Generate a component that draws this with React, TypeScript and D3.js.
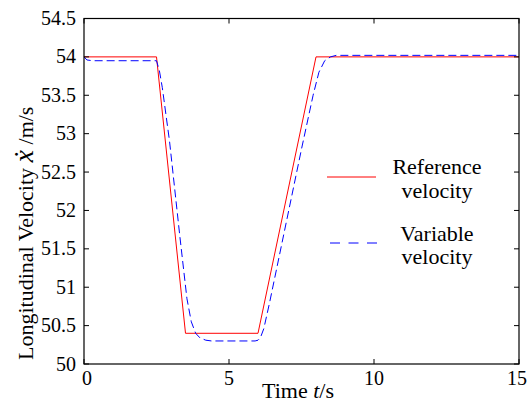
import React from "react";
import * as d3 from "d3";

const refT = [0, 2.5, 3.5, 6, 8, 15];
const refV = [54, 54, 50.4, 50.4, 54, 54];

const varT = [0, 0.1, 0.3, 2.5, 2.6, 2.7, 2.95, 3.3, 3.55, 3.7, 3.85, 4.0, 4.2, 4.4, 5.9, 6.0, 6.08, 6.2, 6.4, 7.5, 7.9, 8.1, 8.3, 8.5, 8.7, 15];
const varV = [54.0, 53.96, 53.95, 53.95, 53.82, 53.6, 52.9, 51.68, 50.85, 50.55, 50.4, 50.34, 50.31, 50.3, 50.3, 50.31, 50.34, 50.46, 50.8, 52.8, 53.5, 53.8, 53.95, 54.0, 54.02, 54.02];

const xTicks = [0, 5, 10, 15];
const yTicks = [50, 50.5, 51, 51.5, 52, 52.5, 53, 53.5, 54, 54.5];

const FONT = "Liberation Serif";

export default function App() {
  const W = 528, H = 408;
  const L = 84, R = 519, T = 18.5, B = 364;
  const x = d3.scaleLinear().domain([0, 15]).range([L, R]);
  const y = d3.scaleLinear().domain([50, 54.5]).range([B, T]);
  const line = d3.line<[number, number]>().x(d => x(d[0])).y(d => y(d[1]));
  const refPts = refT.map((t, i) => [t, refV[i]] as [number, number]);
  const varPts = varT.map((t, i) => [t, varV[i]] as [number, number]);
  const tk = 5;
  return (
    <svg width={W} height={H} style={{ position: "absolute", left: 0, top: 0, background: "#fff" }} fontFamily={FONT}>
      <rect x={0} y={0} width={W} height={H} fill="#fff" />
      <path d={line(refPts) || ""} fill="none" stroke="#ff0000" strokeWidth={1} />
      <path d={line(varPts) || ""} fill="none" stroke="#0000ff" strokeWidth={1} strokeDasharray="8,4" />
      <rect x={L} y={T} width={R - L} height={B - T} fill="none" stroke="#000" strokeWidth={1.2} />
      {xTicks.map(t => (
        <g key={"x" + t}>
          <line x1={x(t)} x2={x(t)} y1={B} y2={B - tk} stroke="#000" />
          <line x1={x(t)} x2={x(t)} y1={T} y2={T + tk} stroke="#000" />
          <text x={x(t) + (t === 0 ? 3 : t === 15 ? -2 : 0)} y={385} textAnchor="middle" fontSize={20} fontFamily={FONT}>{t}</text>
        </g>
      ))}
      {yTicks.map(v => (
        <g key={"y" + v}>
          <line x1={L} x2={L + tk} y1={y(v)} y2={y(v)} stroke="#000" />
          <line x1={R} x2={R - tk} y1={y(v)} y2={y(v)} stroke="#000" />
          <text x={76} y={y(v) + 6.5} textAnchor="end" fontSize={20} fontFamily={FONT}>{v}</text>
        </g>
      ))}
      <text x={298} y={398} textAnchor="middle" fontSize={22} fontFamily={FONT}>
        Time <tspan fontStyle="italic">t</tspan>/s
      </text>
      <text transform="translate(33,360) rotate(-90)" textAnchor="start" fontSize={22} fontFamily={FONT}>
        Longitudinal Velocity  <tspan fontStyle="italic" fontSize={28}>{"x\u0307"}</tspan> /m/s
      </text>
      <line x1={327} x2={376} y1={177} y2={177} stroke="#ff0000" strokeWidth={1} />
      <text x={437} y={174} textAnchor="middle" fontSize={22} fontFamily={FONT}>Reference</text>
      <text x={437} y={198} textAnchor="middle" fontSize={22} fontFamily={FONT}>velocity</text>
      <line x1={330} x2={379} y1={243} y2={243} stroke="#0000ff" strokeWidth={1} strokeDasharray="10,8.5" />
      <text x={437} y={241} textAnchor="middle" fontSize={22} fontFamily={FONT}>Variable</text>
      <text x={437} y={264} textAnchor="middle" fontSize={22} fontFamily={FONT}>velocity</text>
    </svg>
  );
}
